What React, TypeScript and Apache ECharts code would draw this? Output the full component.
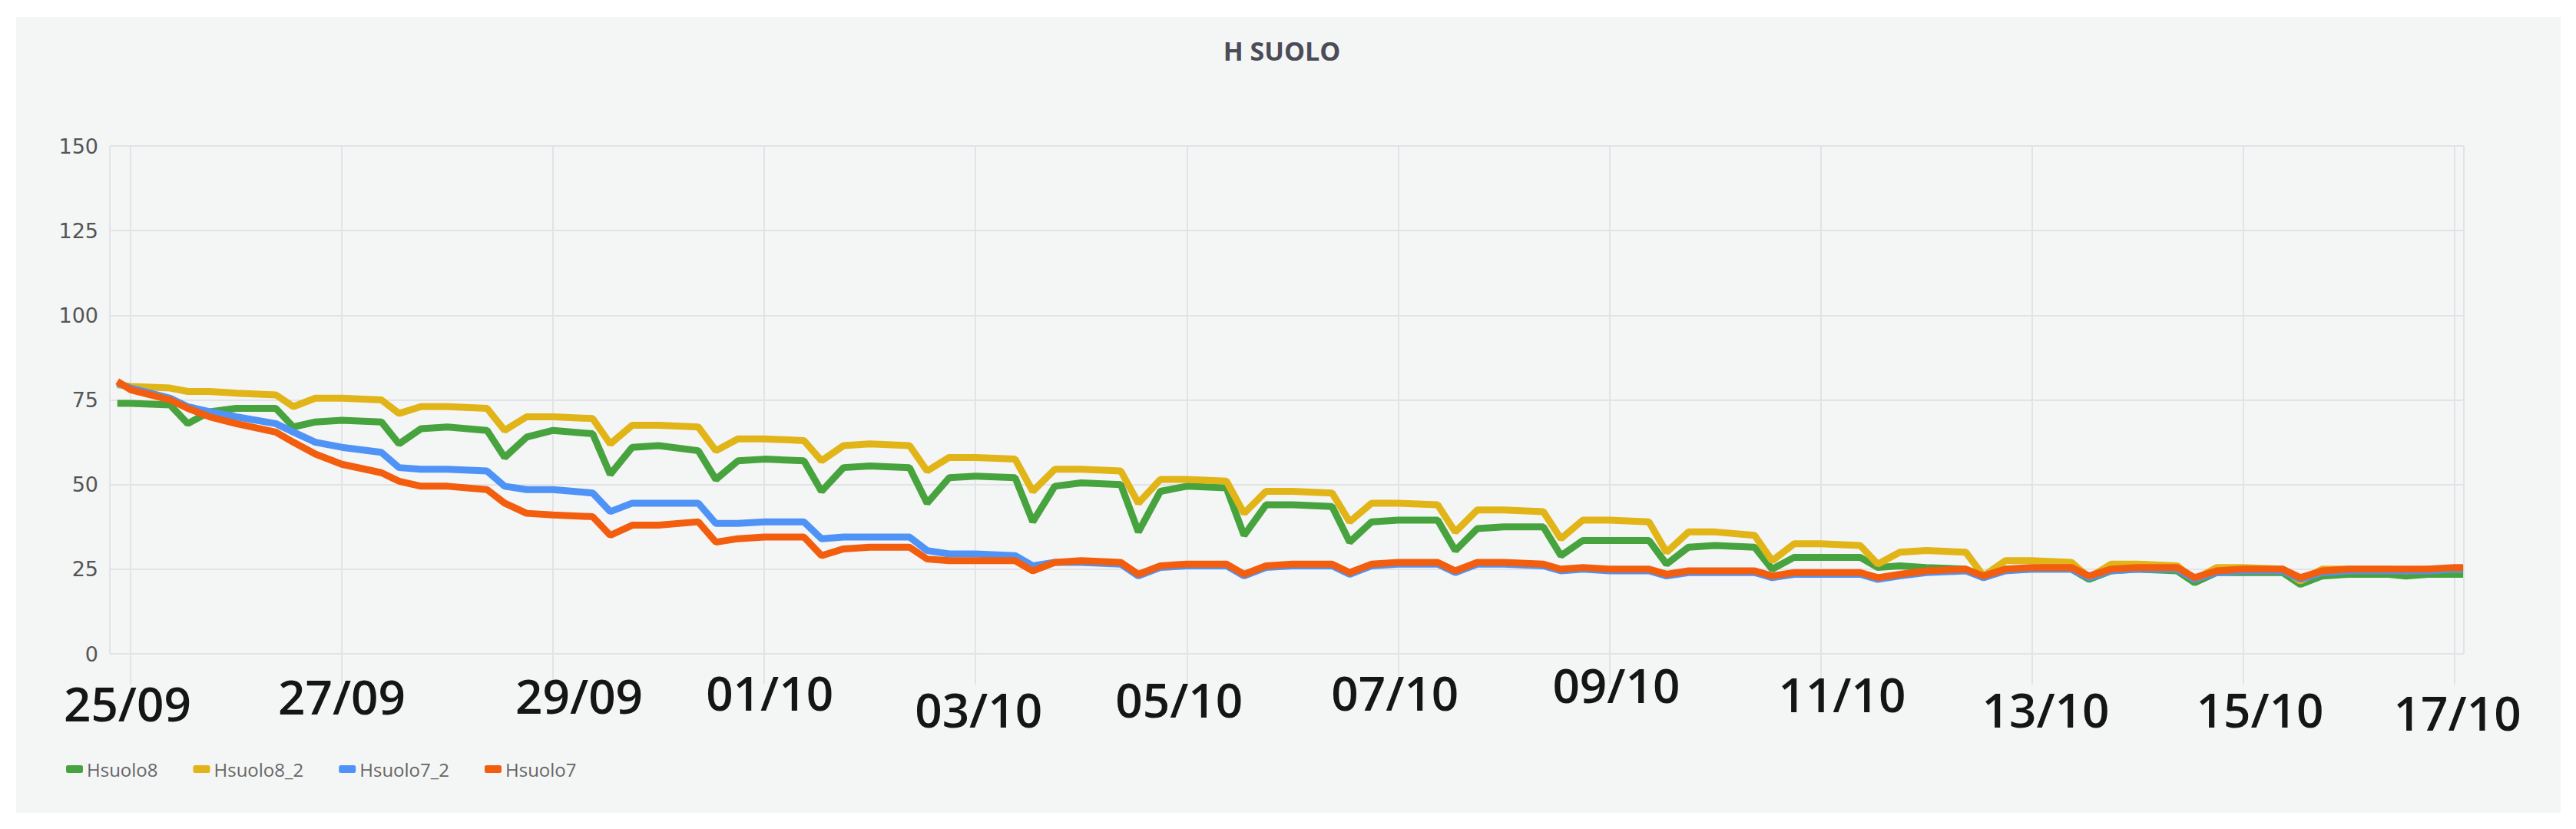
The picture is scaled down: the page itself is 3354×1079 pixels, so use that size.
import { useEffect, useRef } from "react";
import * as echarts from "echarts";

const TITLE = "H SUOLO";
const SERIES_NAMES = ["Hsuolo8", "Hsuolo8_2", "Hsuolo7_2", "Hsuolo7"];
const SERIES_COLORS = ["#47a33e", "#e1b417", "#4f93f6", "#f35e0e"];

// readings: a first one at 24/09 21:00, then at 00h, 09h, 13h and 18h of each day, then 17/10 00:00 and 02:00
const START = new Date(2023, 8, 25, 0, 0, 0).getTime();
const HOUR = 3600 * 1000;
const DAY = 24 * HOUR;
const DAY_HOURS = [0, 9, 13, 18];
const sampleHours: number[] = [-3];
for (let k = 0; k < 22; k++) DAY_HOURS.forEach((h) => sampleHours.push(24 * k + h));
sampleHours.push(528, 530);

const hsuolo8 = [
  74,
  74, 73.5, 68, 71.5,
  72.5, 72.5, 67, 68.5,
  69, 68.5, 62, 66.5,
  67, 66, 58, 64,
  66, 65, 53, 61,
  61.5, 60, 51.5, 57,
  57.5, 57, 48, 55,
  55.5, 55, 44.5, 52,
  52.5, 52, 39, 49.5,
  50.5, 50, 36, 48,
  49.5, 49, 35, 44,
  44, 43.5, 33, 39,
  39.5, 39.5, 30.5, 37,
  37.5, 37.5, 29, 33.5,
  33.5, 33.5, 26.5, 31.5,
  32, 31.5, 25, 28.5,
  28.5, 28.5, 25.5, 26,
  25.5, 25, 22.5, 25,
  25, 25, 22, 24.5,
  25, 24.5, 21, 24,
  24, 24, 20.5, 23,
  23.5, 23.5, 23, 23.5,
  23.5,
  23.5,
];

const hsuolo8_2 = [
  79.5,
  79, 78.5, 77.5, 77.5,
  77, 76.5, 73, 75.5,
  75.5, 75, 71, 73,
  73, 72.5, 66, 70,
  70, 69.5, 62, 67.5,
  67.5, 67, 60, 63.5,
  63.5, 63, 57, 61.5,
  62, 61.5, 54, 58,
  58, 57.5, 48, 54.5,
  54.5, 54, 44.5, 51.5,
  51.5, 51, 41.5, 48,
  48, 47.5, 39, 44.5,
  44.5, 44, 36, 42.5,
  42.5, 42, 34, 39.5,
  39.5, 39, 30, 36,
  36, 35, 27.5, 32.5,
  32.5, 32, 26.5, 30,
  30.5, 30, 23, 27.5,
  27.5, 27, 22.5, 26.5,
  26.5, 26, 22, 25.5,
  25.5, 25, 21.5, 25,
  25, 25, 24.5, 25,
  25,
  25,
];

const hsuolo7_2 = [
  80,
  78.5, 75.5, 73, 71.5,
  70, 68, 65.5, 62.5,
  61, 59.5, 55, 54.5,
  54.5, 54, 49.5, 48.5,
  48.5, 47.5, 42, 44.5,
  44.5, 44.5, 38.5, 38.5,
  39, 39, 34, 34.5,
  34.5, 34.5, 30.5, 29.5,
  29.5, 29, 26, 27,
  27, 26.5, 23, 25.5,
  26, 26, 23, 25.5,
  26, 26, 23.5, 26,
  26.5, 26.5, 24, 26.5,
  26.5, 26, 24.5, 25,
  24.5, 24.5, 23, 24,
  24, 24, 22.5, 23.5,
  23.5, 23.5, 22, 23,
  24, 24.5, 22.5, 24.5,
  25, 25, 22.5, 24.5,
  25, 25, 22, 24,
  24.5, 24.5, 22, 24,
  24.5, 24.5, 24.5, 24.5,
  25,
  25,
];

const hsuolo7 = [
  80.5,
  78, 75, 72.5, 70,
  68, 65.5, 62.5, 59,
  56, 53.5, 51, 49.5,
  49.5, 48.5, 44.5, 41.5,
  41, 40.5, 35, 38,
  38, 39, 33, 34,
  34.5, 34.5, 29, 31,
  31.5, 31.5, 28, 27.5,
  27.5, 27.5, 24.5, 27,
  27.5, 27, 23.5, 26,
  26.5, 26.5, 23.5, 26,
  26.5, 26.5, 24, 26.5,
  27, 27, 24.5, 27,
  27, 26.5, 25, 25.5,
  25, 25, 23.5, 24.5,
  24.5, 24.5, 23, 24,
  24, 24, 22.5, 23.5,
  24.5, 25, 23, 25,
  25.5, 25.5, 23, 25,
  25.5, 25.5, 22.5, 24.5,
  25, 25, 22.5, 24.5,
  25, 25, 25, 25,
  25.5,
  25.5,
];

const SERIES_VALUES = [hsuolo8, hsuolo8_2, hsuolo7_2, hsuolo7];

const xTickLabels = ["25/09", "27/09", "29/09", "01/10", "03/10", "05/10", "07/10", "09/10", "11/10", "13/10", "15/10", "17/10"];
const yTicks = { min: 0, max: 150, interval: 25 };

// per-label nudges (px) reproducing the hand-placed labels of the reference
const labelDx = [-4, 0, 34, 7, 4, -10, -4, 9, 28, 18, 22, 4];
const labelDy = [20, 2, -1, -9, 35, 9, -9, -28, -4, 36, 36, 43];

export default function App() {
  const ref = useRef<HTMLDivElement>(null);

  useEffect(() => {
    if (!ref.current) return;
    const chart = echarts.init(ref.current, null, { renderer: "svg" });

    const rich: Record<string, any> = {};
    xTickLabels.forEach((_, i) => {
      const dx = labelDx[i];
      const dy = labelDy[i];
      rich["l" + i] = {
        fontFamily: "Open Sans",
        fontWeight: 600,
        fontSize: 62,
        lineHeight: 62,
        color: "#151515",
        padding: [30 + dy, dx < 0 ? -2 * dx : 0, 0, dx > 0 ? 2 * dx : 0],
      };
    });

    const gridColor = "#e2e3e6";

    chart.setOption({
      animation: false,
      backgroundColor: "#f4f5f5",
      title: {
        text: TITLE,
        left: 1643,
        textAlign: "center",
        top: 22,
        textStyle: { fontFamily: "Open Sans", fontWeight: "bold", fontSize: 34, color: "#4b4c57" },
      },
      legend: {
        data: SERIES_NAMES,
        left: 60,
        top: 962,
        icon: "roundRect",
        itemWidth: 22,
        itemHeight: 10,
        itemGap: 46,
        textStyle: { fontFamily: "Open Sans", fontSize: 24, color: "#666" },
      },
      grid: { left: 122, right: 126, top: 168, bottom: 207, containLabel: false },
      xAxis: {
        type: "time",
        min: START - 0.196 * DAY,
        max: START + 22.09 * DAY,
        splitNumber: 10,
        axisLine: { show: false },
        axisTick: { show: true, length: 40, lineStyle: { color: gridColor, width: 2 } },
        splitLine: { show: true, lineStyle: { color: gridColor, width: 2 } },
        axisLabel: {
          margin: 8,
          formatter: (value: number) => {
            const d = (value - START) / DAY;
            const idx = Math.round(d / 2);
            if (Math.abs(d - idx * 2) > 0.05 || idx < 0 || idx >= xTickLabels.length) return "";
            return "{l" + idx + "|" + xTickLabels[idx] + "}";
          },
          rich,
        },
      },
      yAxis: {
        type: "value",
        min: yTicks.min,
        max: yTicks.max,
        interval: yTicks.interval,
        axisLine: { show: false },
        axisTick: { show: false },
        splitLine: { show: true, lineStyle: { color: gridColor, width: 2 } },
        axisLabel: { fontFamily: "DejaVu Sans", fontSize: 27, color: "#555", margin: 15 },
      },
      series: SERIES_NAMES.map((name, s) => ({
        name,
        type: "line",
        showSymbol: false,
        symbol: "none",
        color: SERIES_COLORS[s],
        lineStyle: { width: 9, color: SERIES_COLORS[s] },
        data: sampleHours.map((h, i) => [START + h * HOUR, SERIES_VALUES[s][i]]),
      })),
    });

    return () => chart.dispose();
  }, []);

  return (
    <div style={{ position: "fixed", left: 0, top: 0, width: 3354, height: 1079, background: "#ffffff" }}>
      <div ref={ref} style={{ position: "absolute", left: 21, top: 22, width: 3313, height: 1036 }} />
    </div>
  );
}
